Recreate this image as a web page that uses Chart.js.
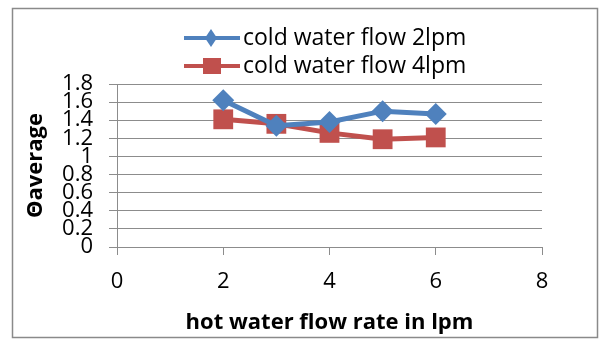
<!DOCTYPE html>
<html>
<head>
<meta charset="utf-8">
<script src="https://cdn.jsdelivr.net/npm/chart.js@4.4.1/dist/chart.umd.min.js"></script>
<style>
  html, body { margin: 0; padding: 0; background: #fff; }
  #wrap { position: relative; width: 604px; height: 345px; }
</style>
</head>
<body>
<div id="wrap"><canvas id="thetaChart" width="604" height="345"></canvas></div>
<script>
// hot water flow rate (lpm) on the x axis
const hotFlow = [2, 3, 4, 5, 6];
// average theta for each cold water flow
const theta2lpm = [1.62, 1.34, 1.38, 1.50, 1.47];
const theta4lpm = [1.41, 1.36, 1.26, 1.19, 1.21];
const seriesNames = ["cold water flow 2lpm", "cold water flow 4lpm"];
const yTickLabels = ["0", "0.2", "0.4", "0.6", "0.8", "1", "1.2", "1.4", "1.6", "1.8"];
const xTickLabels = ["0", "2", "4", "6", "8"];

const BLUE = "#4F81BD";
const RED = "#C0504D";
const GRID = "#8c8c8c";

// legend drawn by hand so the two rows sit where they should
const legendRows = {
    id: "legendRows",
    afterDraw(chart) {
        const ctx = chart.ctx;
        const rows = [38, 66];
        ctx.save();
        chart.data.datasets.forEach((ds, i) => {
            const y = rows[i];
            ctx.strokeStyle = ds.borderColor;
            ctx.lineWidth = 4;
            ctx.beginPath();
            ctx.moveTo(184, y);
            ctx.lineTo(240, y);
            ctx.stroke();
            ctx.fillStyle = ds.backgroundColor;
            if (ds.pointStyle === "rectRot") {
                ctx.beginPath();
                ctx.moveTo(211, y - 9);
                ctx.lineTo(217, y);
                ctx.lineTo(211, y + 9);
                ctx.lineTo(205, y);
                ctx.closePath();
                ctx.fill();
            } else {
                ctx.fillRect(203, y - 8, 18, 16);
            }
            ctx.fillStyle = "#000";
            ctx.font = "23px 'Open Sans'";
            ctx.textBaseline = "middle";
            ctx.fillText(ds.label, 243, y);
        });
        ctx.restore();
    }
};

// outer frame round the whole chart
const frame = {
    id: "frame",
    beforeDraw(chart) {
        const ctx = chart.ctx;
        ctx.save();
        ctx.strokeStyle = "#8a8a8a";
        ctx.lineWidth = 1.5;
        ctx.strokeRect(12.5, 8.5, 585, 329);
        ctx.restore();
    }
};

const ctx = document.getElementById("thetaChart").getContext("2d");
new Chart(ctx, {
    type: "line",
    data: {
        datasets: [
            {
                label: seriesNames[0],
                data: hotFlow.map((x, i) => ({ x, y: theta2lpm[i] })),
                borderColor: BLUE,
                backgroundColor: BLUE,
                borderWidth: 5,
                pointStyle: "rectRot",
                pointRadius: 11,
                pointBorderWidth: 0,
                tension: 0
            },
            {
                label: seriesNames[1],
                data: hotFlow.map((x, i) => ({ x, y: theta4lpm[i] })),
                borderColor: RED,
                backgroundColor: RED,
                borderWidth: 5,
                pointStyle: "rect",
                pointRadius: 14,
                pointBorderWidth: 0,
                tension: 0
            }
        ]
    },
    options: {
        responsive: false,
        animation: false,
        layout: { padding: { left: 0, right: 62, top: 84, bottom: 0 } },
        plugins: {
            legend: { display: false },
            tooltip: { enabled: false }
        },
        scales: {
            x: {
                type: "linear",
                min: 0,
                max: 8,
                ticks: {
                    stepSize: 2,
                    padding: 14,
                    color: "#000",
                    font: { family: "'Open Sans'", size: 22 },
                    callback: (v, i) => xTickLabels[i]
                },
                grid: { drawOnChartArea: false, color: GRID, tickLength: 8 },
                border: { color: GRID, width: 1 },
                title: {
                    display: true,
                    text: "hot water flow rate in lpm",
                    color: "#000",
                    font: { family: "'Open Sans'", size: 22, weight: "bold" },
                    padding: { top: 0, bottom: 9 }
                },
                afterFit(scale) { scale.height = 98; }
            },
            y: {
                min: 0,
                max: 1.8,
                ticks: {
                    stepSize: 0.2,
                    padding: 16,
                    color: "#000",
                    font: { family: "'Open Sans'", size: 22 },
                    autoSkip: false,
                    callback: (v, i) => yTickLabels[i]
                },
                grid: { color: GRID, tickLength: 8 },
                border: { color: GRID, width: 1 },
                title: {
                    display: true,
                    text: "Θaverage",
                    color: "#000",
                    font: { family: "'Open Sans'", size: 22, weight: "bold" },
                    padding: { top: 23, bottom: 0 }
                },
                afterFit(scale) { scale.width = 117; }
            }
        }
    },
    plugins: [frame, legendRows]
});
</script>
</body>
</html>
